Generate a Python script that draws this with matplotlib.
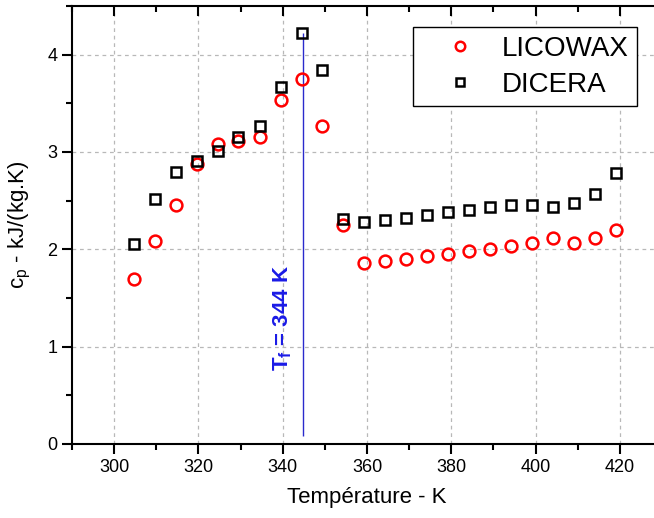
import numpy as np
import matplotlib
matplotlib.use("Agg")
import matplotlib.pyplot as plt
from matplotlib.ticker import MultipleLocator

plt.rcParams['font.family'] = ['Liberation Sans', 'DejaVu Sans']
plt.rcParams['mathtext.fontset'] = 'custom'
plt.rcParams['mathtext.rm'] = 'Liberation Sans'
plt.rcParams['mathtext.it'] = 'Liberation Sans:italic'
plt.rcParams['mathtext.bf'] = 'Liberation Sans:bold'

# temperatures (K)
temp = [304.7, 309.7, 314.6, 319.6, 324.6, 329.5, 334.5, 339.5, 344.5, 349.4,
        354.4, 359.4, 364.3, 369.3, 374.3, 379.2, 384.2, 389.2, 394.2, 399.1,
        404.1, 409.1, 414.0, 419.0]
# specific heat kJ/(kg.K)
licowax = [1.70, 2.09, 2.46, 2.88, 3.08, 3.11, 3.15, 3.53, 3.75, 3.27,
           2.25, 1.86, 1.88, 1.90, 1.93, 1.95, 1.98, 2.00, 2.03, 2.07,
           2.12, 2.06, 2.12, 2.20]
dicera = [2.05, 2.52, 2.79, 2.91, 3.01, 3.15, 3.27, 3.67, 4.22, 3.84,
          2.31, 2.28, 2.30, 2.32, 2.35, 2.38, 2.40, 2.44, 2.46, 2.46,
          2.44, 2.48, 2.57, 2.78]
t_fusion = 344.7
fusion_span = [0.08, 4.22]

fig = plt.figure(figsize=(6.54, 5.18), dpi=100)
ax = fig.add_axes([72 / 654, 74 / 518, 590 / 654, 438 / 518])

ax.grid(True, which='major', color='#b8b8b8', linestyle=(0, (3, 3)), lw=0.9)
ax.set_axisbelow(True)

ax.vlines(t_fusion, fusion_span[0], fusion_span[1], color='#2a2acc', lw=1.0, zorder=2)

ax.plot(temp, licowax, 'o', ls='none', mfc='none', mec='#ff0000', mew=1.8,
        ms=8.5, label='LICOWAX', zorder=3)
ax.plot(temp, dicera, 's', ls='none', mfc='none', mec='black', mew=1.8,
        ms=7.2, label='DICERA', zorder=3)

ax.text(339.9, 1.29, r'$\mathbf{T_f}$ = 344 K', rotation=90, color='#1a1ae6',
        fontsize=16, fontweight='bold', ha='center', va='center')

ax.set_xlim(290, 430)
ax.set_ylim(0, 4.5)
ax.xaxis.set_major_locator(MultipleLocator(20))
ax.xaxis.set_minor_locator(MultipleLocator(10))
ax.yaxis.set_major_locator(MultipleLocator(1))
ax.yaxis.set_minor_locator(MultipleLocator(0.5))

for s in ax.spines.values():
    s.set_linewidth(1.5)

ax.tick_params(axis='both', which='both', direction='out', labelsize=13, width=1.5)
ax.tick_params(which='major', length=7)
ax.tick_params(which='minor', length=4)
ax.tick_params(axis='x', which='both', top=True)
# top ticks point inward
for t in ax.xaxis.get_major_ticks() + ax.xaxis.get_minor_ticks():
    t.tick2line.set_marker(3)

ax.set_xlabel('Température - K', fontsize=16, labelpad=8)
ax.set_ylabel(r'c$_\mathrm{p}$ - kJ/(kg.K)', fontsize=16, labelpad=10)

leg = ax.legend(loc='upper right', bbox_to_anchor=(0.958, 0.951), borderaxespad=0,
                fontsize=20, fancybox=False, framealpha=1, edgecolor='black',
                handletextpad=0.1, borderpad=0.3, labelspacing=0.35,
                handlelength=2.8, markerscale=0.8)
leg.get_frame().set_linewidth(1.0)

fig.savefig('out.png', dpi=100)
